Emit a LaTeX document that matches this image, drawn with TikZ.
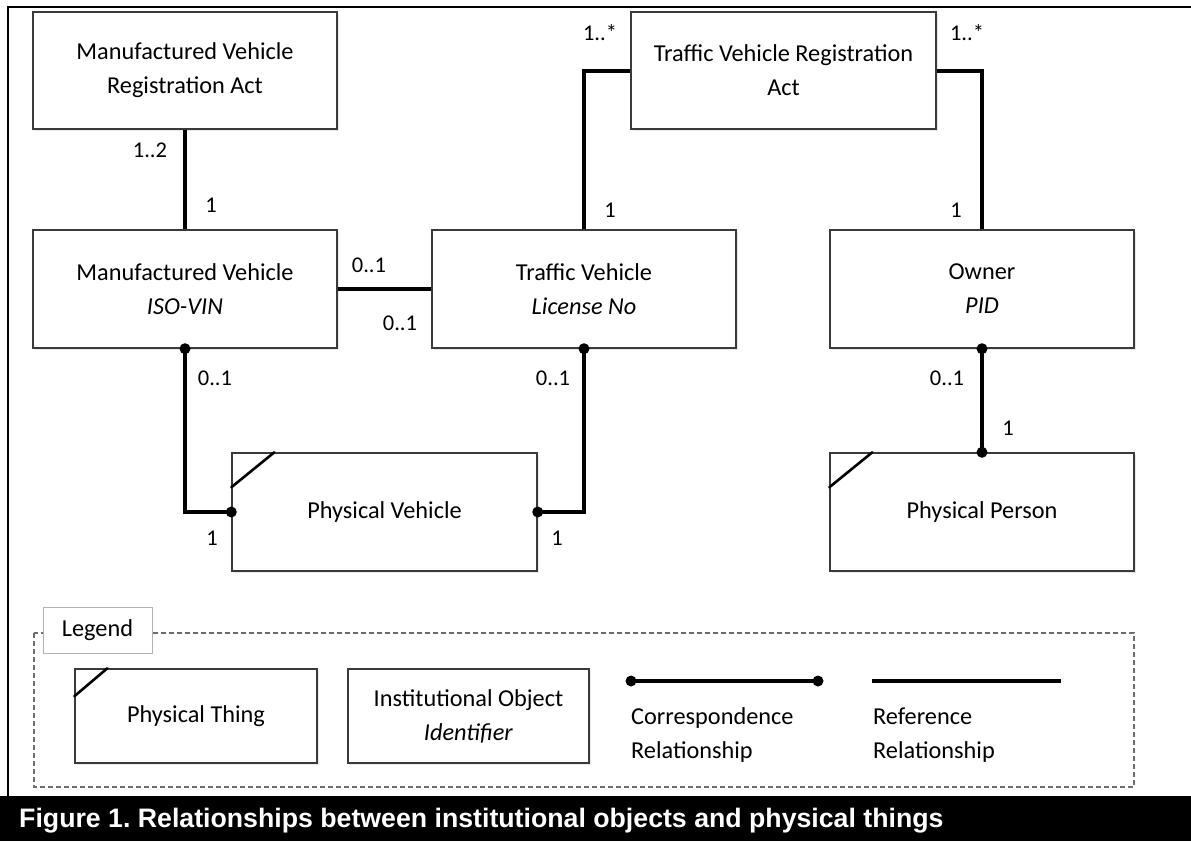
\documentclass[tikz,border=0pt]{standalone}
\usepackage{fontspec}
\setmainfont{Carlito}
\newfontfamily\capfont{Liberation Sans}
\usetikzlibrary{shadows}
\definecolor{boxline}{HTML}{3A3A3A}
\definecolor{dashgray}{HTML}{6E6E6E}
\frenchspacing
\tikzset{
  objbox/.style={draw=boxline, line width=1.4pt, fill=white, inner sep=0pt, align=center,
    font=\fontsize{24.3}{34}\selectfont,
    drop shadow={shadow xshift=1.5pt, shadow yshift=-2pt, opacity=0.18}},
  bigbox/.style={objbox, minimum width=304pt, minimum height=118pt},
  legbox/.style={objbox, minimum width=242pt, minimum height=94pt},
  lbl/.style={inner sep=0pt, font=\fontsize{22.5}{26}\selectfont},
  legtext/.style={inner sep=0pt, align=left, font=\fontsize{24.3}{34}\selectfont},
  reflink/.style={line width=4pt, black},
  corrlink/.style={line width=4pt, black},
  tick/.style={line width=2.6pt, black, line cap=round},
  legdash/.style={draw=dashgray, line width=1.5pt, dash pattern=on 5pt off 3pt},
}
\begin{document}
\begin{tikzpicture}[x=1pt,y=-1pt]
\useasboundingbox (0,0) rectangle (1191,841);
\fill[white] (0,0) rectangle (1191,841);

% frame
\draw[line width=2.5pt] (8,796) -- (8,7) -- (1191,7);

% main boxes
\node[bigbox, minimum height=117pt] (mvra) at (185,70.5) {Manufactured Vehicle\\Registration Act};
\node[bigbox, minimum width=305pt, minimum height=117pt] (tvra) at (783.5,70.5) {Traffic Vehicle Registration\\Act};
\node[bigbox] (mv) at (185,289) {Manufactured Vehicle\\\textit{ISO-VIN}};
\node[bigbox] (tv) at (584,289) {Traffic Vehicle\\\textit{License No}};
\node[bigbox] (own) at (982,289) {Owner\\\textit{PID}};
\node[bigbox, minimum width=305pt] (pv) at (384.5,512) {Physical Vehicle};
\node[bigbox] (pp) at (982,512) {Physical Person};

% physical ticks
\draw[tick] ([yshift=-35pt]pv.north west) -- ([xshift=43pt]pv.north west);
\draw[tick] ([yshift=-35pt]pp.north west) -- ([xshift=43pt]pp.north west);

% reference links
\draw[reflink] (mvra.south) -- (mv.north);
\draw[reflink] (mv.east) -- (tv.west);
\draw[reflink] (tv.north) |- (tvra.west);
\draw[reflink] (tvra.east) -| (own.north);

% correspondence links
\draw[corrlink] (mv.south) |- (pv.west);
\draw[corrlink] (tv.south) |- (pv.east);
\draw[corrlink] (own.south) -- (pp.north);
\foreach \p in {mv.south, pv.west, tv.south, pv.east, own.south, pp.north}
  \fill (\p) circle[radius=5.5pt];

% multiplicities
\node[lbl] (m1) at (150,150) {1..2};
\node[lbl] (m2) at (211,205) {1};
\node[lbl] (m3) at (369,265) {0..1};
\node[lbl] (m4) at (400,323) {0..1};
\node[lbl] (m5) at (600,33) {1..*};
\node[lbl] (m6) at (610,210) {1};
\node[lbl] (m7) at (967,33) {1..*};
\node[lbl] (m8) at (956,210) {1};
\node[lbl] (m9) at (215,378) {0..1};
\node[lbl] (m10) at (553,378) {0..1};
\node[lbl] (m11) at (947,378) {0..1};
\node[lbl] (m12) at (1008,428) {1};
\node[lbl] (m13) at (212,538) {1};
\node[lbl] (m14) at (557,538) {1};

% legend
\draw[legdash] (34,633) rectangle (1134,787);
\node[draw=gray!60, line width=1pt, fill=white, minimum width=109pt, minimum height=46pt, inner sep=0pt,
  font=\fontsize{24.3}{28}\selectfont] (legtitle) at (97.5,630) {Legend};
\node[legbox] (lpt) at (196,716) {Physical Thing};
\draw[tick] ([yshift=-28pt]lpt.north west) -- ([xshift=33pt]lpt.north west);
\node[legbox, minimum width=241pt] (lio) at (468.5,716) {Institutional Object\\\textit{Identifier}};

\coordinate (ca) at (631,681);
\coordinate (cb) at (818,681);
\draw[corrlink] (ca) -- (cb);
\fill (ca) circle[radius=5.5pt];
\fill (cb) circle[radius=5.5pt];
\node[legtext, anchor=west] (ctext) at (631,735) {Correspondence\\Relationship};

\coordinate (ra) at (872,681);
\coordinate (rb) at (1061,681);
\draw[reflink] (ra) -- (rb);
\node[legtext, anchor=west] (rtext) at (873,735) {Reference\\Relationship};

% caption
\fill[black] (0,796) rectangle (1191,841);
\node[anchor=west, inner sep=0pt, text=white, font=\capfont\bfseries\fontsize{26.7}{30}\selectfont] (cap)
  at (19,821) {Figure 1. Relationships between institutional objects and physical things};
\end{tikzpicture}
\end{document}
